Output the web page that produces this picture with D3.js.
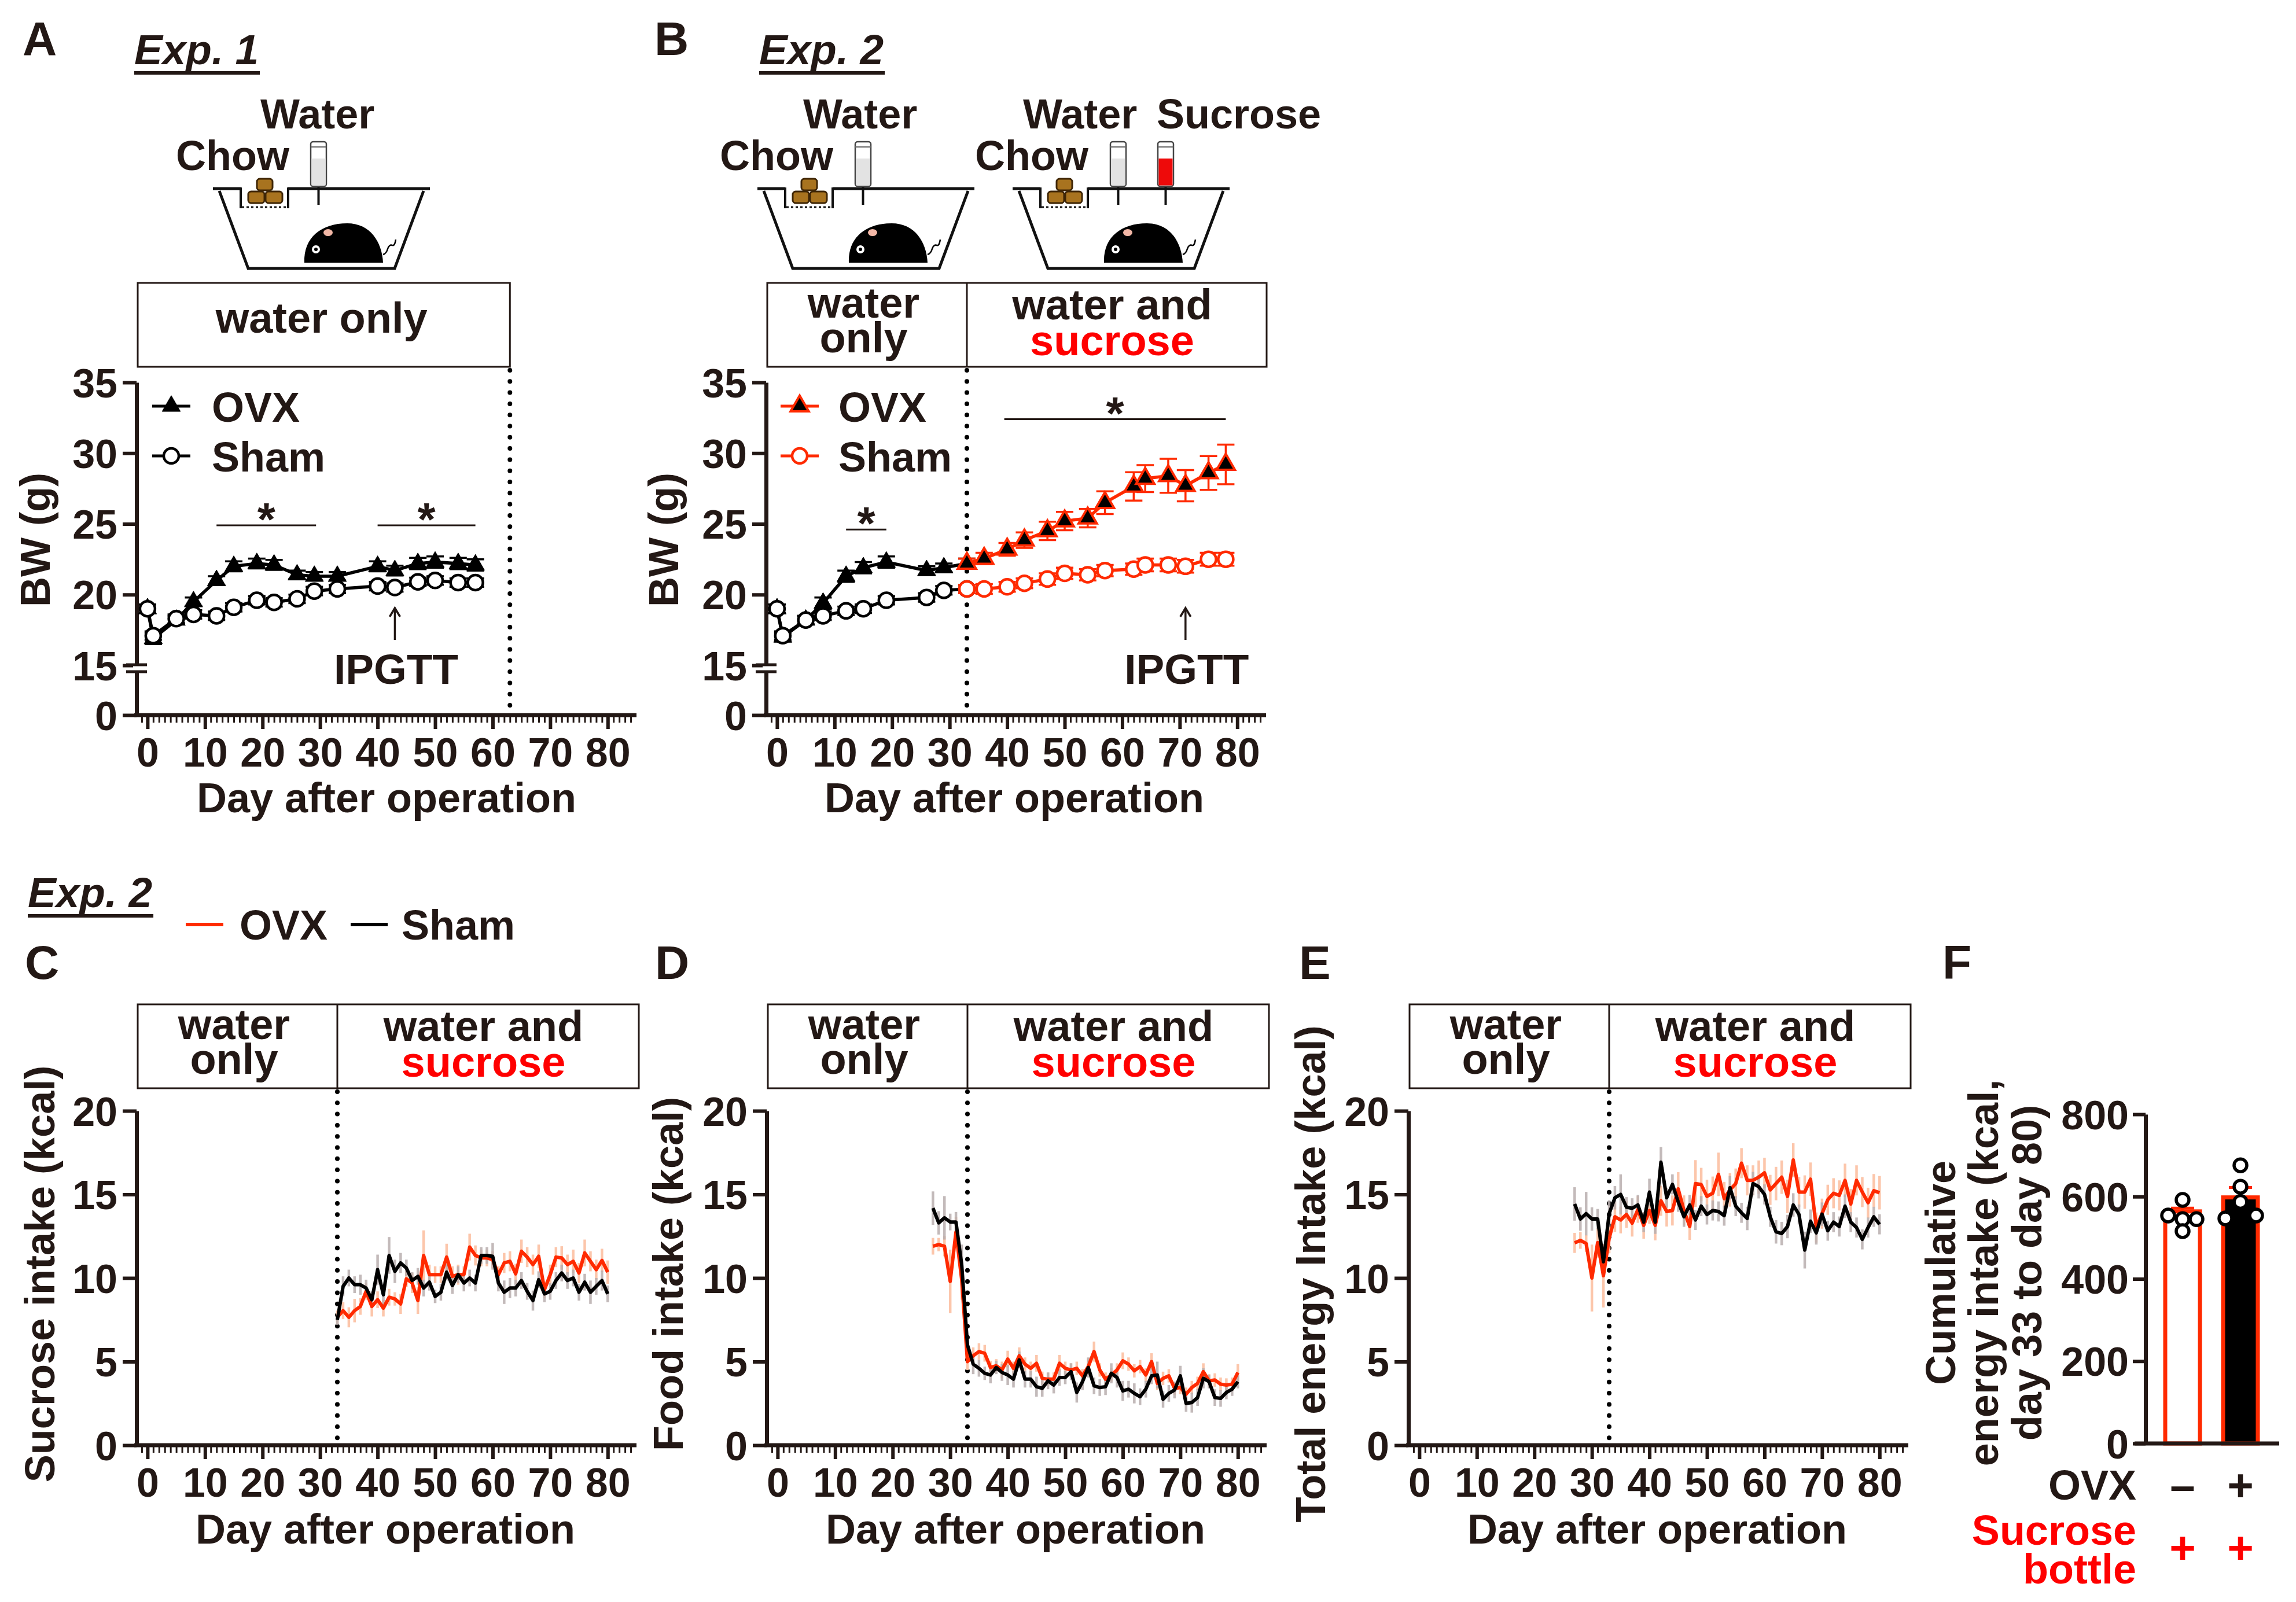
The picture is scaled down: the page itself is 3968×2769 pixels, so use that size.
<!DOCTYPE html>
<html><head><meta charset="utf-8">
<script src="https://cdn.jsdelivr.net/npm/d3@7"></script>
<style>
body{margin:0;background:#fff}
svg{display:block}
text{font-family:"Liberation Sans",Arial,sans-serif;font-weight:bold}
</style>
</head><body>
<svg id="fig" width="3968" height="2769"></svg>
<script>
// ---------------- DATA ----------------
// Panel A (Exp. 1) body weight
const daysA = [0,1,5,8,12,15,19,22,26,29,33,40,43,47,50,54,57];
const bwOvxA = [19.0,16.9,18.2,19.5,21.0,22.0,22.2,22.1,21.4,21.3,21.3,22.0,21.7,22.2,22.3,22.2,22.1];
const bwOvxASem = [0.3,0.4,0.3,0.3,0.3,0.35,0.35,0.35,0.3,0.3,0.3,0.35,0.35,0.4,0.4,0.4,0.4];
const bwShamA = [19.0,17.1,18.3,18.6,18.5,19.1,19.6,19.45,19.7,20.25,20.4,20.6,20.5,20.9,21.0,20.85,20.85];
const bwShamASem = [0.3,0.3,0.3,0.3,0.3,0.3,0.3,0.3,0.3,0.3,0.3,0.3,0.3,0.3,0.3,0.3,0.3];
// Panel B (Exp. 2) body weight
const daysB = [0,1,5,8,12,15,19,26,29,33,36,40,43,47,50,54,57,62,64,68,71,75,78];
const bwOvxB = [19.0,17.0,18.2,19.4,21.3,21.9,22.3,21.7,21.9,22.2,22.55,23.2,23.85,24.5,25.2,25.4,26.5,27.65,28.2,28.4,27.7,28.6,29.2];
const bwOvxBSem = [0.3,0.3,0.3,0.4,0.4,0.4,0.4,0.3,0.3,0.35,0.4,0.45,0.55,0.65,0.65,0.65,0.8,1.0,0.95,1.2,1.1,1.2,1.4];
const bwShamB = [19.0,17.1,18.2,18.5,18.85,19.0,19.6,19.8,20.3,20.4,20.4,20.55,20.8,21.1,21.5,21.4,21.7,21.8,22.1,22.1,22.0,22.5,22.5];
const bwShamBSem = [0.3,0.3,0.3,0.3,0.3,0.3,0.3,0.3,0.3,0.3,0.35,0.35,0.35,0.4,0.4,0.4,0.4,0.4,0.45,0.45,0.45,0.45,0.45];
const sucroseStartDay = 33;
// Panel C sucrose intake, days 33..80
const daysC = [33,34,35,36,37,38,39,40,41,42,43,44,45,46,47,48,49,50,51,52,53,54,55,56,57,58,59,60,61,62,63,64,65,66,67,68,69,70,71,72,73,74,75,76,77,78,79,80];
const sucOvx = [7.65,8.05,7.65,8.05,8.3,9.2,8.3,8.7,8.2,8.85,8.75,8.45,9.95,9.7,8.65,11.35,10.2,10.2,10.2,11.25,10.1,10.2,10.2,11.85,11.35,11.2,11.2,11.1,10.2,10.9,11.0,10.25,11.6,11.25,10.8,11.3,9.3,10.2,11.25,11.2,10.8,11.0,10.3,11.5,11.0,10.5,11.05,10.35];
const sucOvxSem = [0.4,0.5,0.6,0.7,0.5,0.5,0.6,0.5,0.5,0.5,0.4,0.6,0.5,0.6,0.8,1.5,0.6,0.5,0.5,0.8,0.6,0.6,0.5,0.8,0.6,0.5,0.5,0.5,0.5,0.6,0.6,0.6,0.7,0.6,0.6,0.7,0.5,0.6,0.6,0.7,0.6,0.7,0.6,0.8,0.6,0.6,0.7,0.7];
const sucSham = [7.5,9.5,10.0,9.6,9.6,9.4,8.7,10.5,9.0,11.35,10.4,10.9,10.6,9.85,10.1,9.4,9.75,8.9,9.15,10.35,9.55,10.2,9.7,10.0,9.7,11.35,11.35,11.3,9.7,9.15,9.4,9.4,9.85,9.2,8.65,9.9,9.05,9.2,9.85,10.3,9.85,10.0,9.15,9.75,9.15,9.5,9.85,9.05];
const sucShamSem = [0.3,0.6,0.5,0.5,0.6,0.5,0.5,0.9,0.6,1.1,0.7,0.6,0.5,0.5,0.5,0.5,0.5,0.4,0.5,0.5,0.5,0.5,0.5,0.5,0.5,0.5,0.5,0.8,0.5,0.7,0.6,0.5,0.5,0.5,0.6,0.5,0.5,0.5,0.5,0.5,0.5,0.5,0.5,0.5,0.7,0.5,0.6,0.5];
// Panels D/E, days 27..80
const daysDE = [27,28,29,30,31,32,33,34,35,36,37,38,39,40,41,42,43,44,45,46,47,48,49,50,51,52,53,54,55,56,57,58,59,60,61,62,63,64,65,66,67,68,69,70,71,72,73,74,75,76,77,78,79,80];
const foodOvx = [11.9,12.0,11.9,9.8,12.75,9.9,5.0,5.35,5.6,5.5,4.65,4.75,4.5,5.15,4.6,5.35,4.85,4.6,4.9,4.0,3.95,3.95,4.9,4.6,4.5,4.6,4.15,4.7,5.6,4.5,3.95,4.2,4.5,5.05,4.85,4.45,4.7,4.2,5.0,3.7,4.0,4.15,3.4,3.45,3.05,3.45,3.7,4.4,3.85,3.9,3.65,3.6,3.65,4.35];
const foodOvxSem = [0.5,0.4,0.6,1.9,0.9,1.2,0.5,0.5,0.5,0.5,0.4,0.4,0.5,0.5,0.4,0.5,0.4,0.4,0.5,0.4,0.4,0.4,0.5,0.4,0.4,0.4,0.4,0.5,0.6,0.4,0.4,0.4,0.4,0.5,0.4,0.4,0.4,0.4,0.5,0.4,0.4,0.4,0.4,0.4,0.4,0.4,0.4,0.5,0.4,0.4,0.4,0.4,0.4,0.5];
const foodSham = [14.18,13.3,13.6,13.35,13.35,10.8,6.0,4.85,4.6,4.3,4.2,4.65,4.35,4.2,3.95,5.1,3.95,3.95,3.5,3.4,3.85,3.6,4.05,4.05,4.4,3.15,3.8,4.65,3.55,3.45,3.5,4.3,4.05,3.25,3.35,3.1,2.9,3.35,4.15,4.2,2.75,3.1,3.3,4.15,2.5,2.55,2.85,4.0,3.8,2.85,2.8,3.15,3.35,3.8];
const foodShamSem = [1.0,0.7,1.3,0.5,0.6,1.2,0.5,0.6,0.5,0.4,0.5,0.4,0.5,0.6,0.5,0.5,0.5,0.5,0.6,0.5,0.5,0.5,0.5,0.4,0.5,0.6,0.5,0.6,0.5,0.5,0.5,0.6,0.6,0.6,0.5,0.6,0.5,0.5,0.5,0.8,0.5,0.5,0.5,0.6,0.5,0.6,0.5,0.6,0.4,0.5,0.5,0.4,0.4,0.4];
const totOvx = [12.1,12.25,12.06,10.0,12.12,10.14,12.38,13.66,13.47,13.8,13.28,14.1,13.15,14.04,13.15,14.62,13.98,14.04,15.33,14.04,13.08,15.65,15.59,14.88,15.07,16.2,14.75,15.27,15.65,16.87,15.84,15.84,16.03,16.29,15.27,15.65,16.03,14.88,17.06,15.14,15.14,15.91,13.02,13.85,14.68,15.07,14.94,15.84,14.43,15.84,15.14,14.5,15.22,15.1];
const totOvxSem = [0.6,0.5,0.5,2.0,0.9,1.9,0.9,0.9,0.8,0.8,0.8,0.8,0.8,0.8,0.9,0.9,0.9,0.9,1.0,0.9,0.8,1.4,1.0,1.0,1.0,1.3,1.0,1.0,0.9,0.9,0.9,0.9,1.0,0.9,0.9,1.0,1.0,1.0,1.0,0.9,1.0,1.0,0.9,0.9,0.9,0.9,0.9,1.0,0.9,0.9,0.9,0.9,1.0,1.0];
const totSham = [14.43,13.53,13.85,13.53,13.53,10.97,13.85,14.8,15.0,14.24,14.17,14.37,13.34,15.14,13.34,16.93,14.8,15.6,14.56,13.66,14.37,13.47,14.3,13.8,14.04,13.98,13.73,15.4,14.3,13.9,13.56,15.65,15.46,15.0,13.66,12.76,12.66,13.08,14.37,13.8,11.67,13.4,12.7,13.82,12.83,13.34,13.08,14.3,13.34,13.02,12.31,13.02,13.66,13.21];
const totShamSem = [1.0,0.7,1.3,0.7,0.6,0.9,0.8,0.7,1.2,0.6,0.6,0.6,0.6,0.8,0.7,0.9,0.6,0.6,0.6,0.6,0.6,0.6,0.6,0.6,0.6,0.6,0.6,0.7,0.6,0.6,0.7,0.7,0.7,0.6,0.6,0.7,0.7,0.7,0.7,0.6,1.1,0.7,0.7,0.7,0.6,0.6,0.6,0.7,0.6,0.6,0.6,0.6,0.6,0.6];
// Panel F
const fGroups = ["Sham","OVX"];
const fMeans = [564, 598];
const fSem = [8, 24];
const fDotsSham = [554,592,545,516,545];
const fDotsOvx = [676,624,587,547,554];
const xTickValues = [0,10,20,30,40,50,60,70,80];
const bwTicks = [0,15,20,25,30,35];
const intakeTicks = [0,5,10,15,20];
const fTicks = [0,200,400,600,800];

// ---------------- SETUP ----------------
const INK = '#231815', RED = '#ff2a00', PRED = '#ff0000', LRED = '#fcc6ab', LGRAY = '#b9afaf';
const svg = d3.select('#fig');
svg.append('rect').attr('width',3968).attr('height',2769).attr('fill','#fff');

function txt(x, y, s, size, opts={}) {
  const t = svg.append('text').attr('x',x).attr('y',y).attr('font-size',size)
    .attr('fill', opts.fill || INK).attr('text-anchor', opts.anchor || 'start').text(s);
  if (opts.italic) t.attr('font-style','italic');
  if (opts.rotate) t.attr('transform',`rotate(-90,${x},${y})`);
  return t;
}
function xScale(x0){ return d3.scaleLinear().domain([-1.9,85]).range([x0, x0+864]); }

function xAxis(x, y0, tickLabel=true) {
  const gm = svg.append('g').attr('transform',`translate(0,${y0})`)
    .call(d3.axisBottom(x).tickValues(d3.range(-1,85)).tickSize(13).tickSizeOuter(0).tickFormat(''));
  gm.select('.domain').remove();
  gm.selectAll('line').attr('stroke',INK).attr('stroke-width',3);
  const g = svg.append('g').attr('transform',`translate(0,${y0})`)
    .call(d3.axisBottom(x).tickValues(xTickValues).tickSize(24).tickSizeOuter(0));
  g.select('.domain').attr('stroke',INK).attr('stroke-width',7).attr('d',`M${x.range()[0]-4},0H${x.range()[1]}`);
  g.selectAll('line').attr('stroke',INK).attr('stroke-width',6);
  g.selectAll('text').attr('y',89).attr('dy',null).attr('font-size',70).attr('fill',INK);
}
function yAxis(y, x0, ticks) {
  const g = svg.append('g').attr('transform',`translate(${x0},0)`)
    .call(d3.axisLeft(y).tickValues(ticks).tickSize(24).tickSizeOuter(0));
  g.select('.domain').attr('stroke',INK).attr('stroke-width',7);
  g.selectAll('line').attr('stroke',INK).attr('stroke-width',6);
  g.selectAll('text').attr('x',-33).attr('dy','0.36em').attr('font-size',70).attr('fill',INK);
  return g;
}
function dotted(x, y1, y2) {
  svg.append('line').attr('x1',x).attr('x2',x).attr('y1',y1+6).attr('y2',y2)
    .attr('stroke','#000').attr('stroke-width',8).attr('stroke-linecap','round').attr('stroke-dasharray','0 19.3');
}
function header(left, right, divider, top, bottom, twoCols) {
  svg.append('rect').attr('x',left).attr('y',top).attr('width',right-left).attr('height',bottom-top)
    .attr('fill','none').attr('stroke',INK).attr('stroke-width',3);
  if (!twoCols) {
    txt((left+right)/2 - 4, top+86, 'water only', 74, {anchor:'middle'});
    return;
  }
  svg.append('line').attr('x1',divider).attr('x2',divider).attr('y1',top).attr('y2',bottom).attr('stroke',INK).attr('stroke-width',3);
  const c1 = (left+divider)/2 - 6, c2 = (divider+right)/2 - 8;
  txt(c1, top+60, 'water', 74, {anchor:'middle'});
  txt(c1, top+120, 'only', 74, {anchor:'middle'});
  txt(c2, top+63, 'water and', 74, {anchor:'middle'});
  txt(c2, top+125, 'sucrose', 74, {anchor:'middle', fill:PRED});
}
function expLabel(x, y, s) {
  const t = txt(x, y, s, 73, {italic:true});
  const w = t.node().getComputedTextLength();
  svg.append('line').attr('x1',x).attr('x2',x+w+2).attr('y1',y+15).attr('y2',y+15).attr('stroke',INK).attr('stroke-width',6);
}
function cage(dx, bottles) {
  const c = svg.append('g').attr('transform',`translate(${dx},0)`);
  c.append('path').attr('d','M379,330 L429,464 L682,464 L732,330').attr('fill','none').attr('stroke','#111').attr('stroke-width',5).attr('stroke-linejoin','miter');
  c.append('path').attr('d','M368,326 H416 M498,326 H743').attr('stroke','#111').attr('stroke-width',5);
  c.append('path').attr('d','M416,324 V360 M498,324 V360').attr('stroke','#111').attr('stroke-width',4);
  c.append('line').attr('x1',418).attr('x2',496).attr('y1',358).attr('y2',358).attr('stroke','#111').attr('stroke-width',3).attr('stroke-dasharray','4 4');
  [[429,331,28,20],[459,331,29,20],[444,309,27,20]].forEach(r=>{
    c.append('rect').attr('x',r[0]).attr('y',r[1]).attr('width',r[2]).attr('height',r[3]).attr('rx',5)
      .attr('fill','#a8731f').attr('stroke','#3f2606').attr('stroke-width',3);
  });
  bottles.forEach(b=>{
    c.append('line').attr('x1',b.x+13.5).attr('x2',b.x+13.5).attr('y1',322).attr('y2',354).attr('stroke','#111').attr('stroke-width',4);
    c.append('rect').attr('x',b.x).attr('y',245).attr('width',27).attr('height',77).attr('rx',4).attr('fill','#fff').attr('stroke','#444').attr('stroke-width',2.5);
    c.append('rect').attr('x',b.x+1.5).attr('y',274).attr('width',24).attr('height',46.5).attr('fill',b.fill);
    c.append('line').attr('x1',b.x).attr('x2',b.x+27).attr('y1',254).attr('y2',254).attr('stroke','#666').attr('stroke-width',2);
  });
  c.append('path').attr('d','M526,454 C524,410 556,386 600,386 C640,386 660,418 662,454 Z').attr('fill','#000');
  c.append('ellipse').attr('cx',567).attr('cy',402).attr('rx',9).attr('ry',7).attr('fill','#f2b7a6').attr('stroke','#000').attr('stroke-width',2);
  c.append('circle').attr('cx',546).attr('cy',431).attr('r',7).attr('fill','#fff');
  c.append('circle').attr('cx',546).attr('cy',431).attr('r',3).attr('fill','#000');
  c.append('path').attr('d','M662,440 q6,-2 8,-10 q3,-8 8,-6 q4,2 6,-10').attr('fill','none').attr('stroke','#000').attr('stroke-width',2.5);
}

// ---------------- PANEL A & B ----------------
const yBW = d3.scaleLinear().domain([0,15,35]).range([1236,1150,661]);
function bwAxes(x0, x) {
  const y0 = yBW(0);
  yAxis(yBW, x0, bwTicks);
  // axis break
  svg.append('rect').attr('x',x0-6).attr('y',yBW(15)+1).attr('width',12).attr('height',9).attr('fill','#fff');
  [yBW(15)-1, yBW(15)+11].forEach(yy=>svg.append('line').attr('x1',x0-18).attr('x2',x0+18).attr('y1',yy).attr('y2',yy).attr('stroke',INK).attr('stroke-width',5));
  xAxis(x, y0);
}
function sigBar(x, d1, d2, v, starSize=80) {
  const yy = yBW(v);
  svg.append('line').attr('x1',x(d1)).attr('x2',x(d2)).attr('y1',yy).attr('y2',yy).attr('stroke',INK).attr('stroke-width',3);
  txt((x(d1)+x(d2))/2, yy+17, '*', starSize, {anchor:'middle'});
}
function ipgtt(x, day) {
  const xx = x(day);
  svg.append('line').attr('x1',xx).attr('x2',xx).attr('y1',1106).attr('y2',1054).attr('stroke',INK).attr('stroke-width',3.5);
  svg.append('path').attr('d',`M${xx-9},${1066} L${xx},${1051} L${xx+9},${1066}`).attr('fill','none').attr('stroke',INK).attr('stroke-width',3.5);
  txt(xx+2, 1182, 'IPGTT', 73, {anchor:'middle'});
}
const tri = d3.symbol(d3.symbolTriangle, 430);
function drawSeries(x, days, vals, sems, opts) {
  const pts = days.map((d,i)=>({d, v:vals[i], s:sems[i]})).filter(p=>p.d>=opts.from && p.d<=opts.to);
  const g = svg.append('g');
  // error bars
  pts.forEach(p=>{
    const xx = x(p.d);
    g.append('path').attr('d',`M${xx},${yBW(p.v-p.s)}V${yBW(p.v+p.s)}M${xx-15},${yBW(p.v+p.s)}H${xx+15}M${xx-15},${yBW(p.v-p.s)}H${xx+15}`)
      .attr('stroke',opts.line).attr('stroke-width',3.5).attr('fill','none');
  });
  g.append('path').datum(pts).attr('d',d3.line().x(p=>x(p.d)).y(p=>yBW(p.v)))
    .attr('fill','none').attr('stroke',opts.line).attr('stroke-width',5.5).attr('stroke-linejoin','round');
  pts.forEach(p=>{
    if (opts.shape==='tri') {
      g.append('path').attr('d',tri()).attr('transform',`translate(${x(p.d)},${yBW(p.v)})`)
        .attr('fill','#000').attr('stroke',opts.mstroke).attr('stroke-width',opts.mstroke==='#000'?1:4);
    } else {
      g.append('circle').attr('cx',x(p.d)).attr('cy',yBW(p.v)).attr('r',13)
        .attr('fill','#fff').attr('stroke',opts.mstroke).attr('stroke-width',4.5);
    }
  });
}
function legendBW(lx, tx, lineCol, mstroke) {
  svg.append('line').attr('x1',lx-33).attr('x2',lx+33).attr('y1',702).attr('y2',702).attr('stroke',lineCol).attr('stroke-width',5);
  svg.append('path').attr('d',tri()).attr('transform',`translate(${lx},702)`).attr('fill','#000').attr('stroke',mstroke).attr('stroke-width',mstroke==='#000'?1:4);
  svg.append('line').attr('x1',lx-33).attr('x2',lx+33).attr('y1',788).attr('y2',788).attr('stroke',lineCol).attr('stroke-width',5);
  svg.append('circle').attr('cx',lx).attr('cy',788).attr('r',13).attr('fill','#fff').attr('stroke',lineCol).attr('stroke-width',4.5);
  txt(tx, 729, 'OVX', 72);
  txt(tx, 815, 'Sham', 72);
}

// Panel A
const xA = xScale(236);
txt(39, 95, 'A', 82);
expLabel(232, 111, 'Exp. 1');
cage(0, [{x:537, fill:'#e3e3e3'}]);
txt(450, 222, 'Water', 72); txt(304, 294, 'Chow', 72);
header(238, xA(63), null, 489, 634, false);
dotted(xA(63), 634, yBW(0));
bwAxes(236, xA);
drawSeries(xA, daysA, bwOvxA, bwOvxASem, {from:0,to:90,line:'#000',shape:'tri',mstroke:'#000'});
drawSeries(xA, daysA, bwShamA, bwShamASem, {from:0,to:90,line:'#000',shape:'circ',mstroke:'#000'});
legendBW(296, 366, '#000', '#000');
sigBar(xA, 12, 29.3, 24.9);
sigBar(xA, 40, 57, 24.9);
ipgtt(xA, 43);
txt(86, 933, 'BW (g)', 72, {anchor:'middle', rotate:true});
txt(668, 1404, 'Day after operation', 72, {anchor:'middle'});

// Panel B
const xB = xScale(1324);
txt(1131, 95, 'B', 82);
expLabel(1312, 111, 'Exp. 2');
cage(941, [{x:537, fill:'#e3e3e3'}]);
cage(1382, [{x:537, fill:'#e3e3e3'},{x:619, fill:'#ee0a0a'}]);
txt(1388, 222, 'Water', 72); txt(1244, 294, 'Chow', 72);
txt(1768, 222, 'Water', 72); txt(1999, 222, 'Sucrose', 72); txt(1685, 294, 'Chow', 72);
header(1326, 2189, xB(sucroseStartDay), 489, 634, true);
dotted(xB(sucroseStartDay), 634, yBW(0));
bwAxes(1324, xB);
drawSeries(xB, daysB, bwOvxB, bwOvxBSem, {from:0,to:33,line:'#000',shape:'tri',mstroke:'#000'});
drawSeries(xB, daysB, bwShamB, bwShamBSem, {from:0,to:33,line:'#000',shape:'circ',mstroke:'#000'});
drawSeries(xB, daysB, bwOvxB, bwOvxBSem, {from:33,to:90,line:RED,shape:'tri',mstroke:RED});
drawSeries(xB, daysB, bwShamB, bwShamBSem, {from:33,to:90,line:RED,shape:'circ',mstroke:RED});
legendBW(1382, 1449, RED, RED);
sigBar(xB, 12, 19, 24.6);
sigBar(xB, 39.5, 78, 32.4);
ipgtt(xB, 71);
txt(1172, 933, 'BW (g)', 72, {anchor:'middle', rotate:true});
txt(1753, 1404, 'Day after operation', 72, {anchor:'middle'});

// ---------------- PANELS C, D, E ----------------
const yI = d3.scaleLinear().domain([0,20]).range([2498,1920]);
function intakePanel(x0, letter, letterX, ylab, ylabX, days, ovx, ovxSem, sham, shamSem) {
  const x = xScale(x0);
  txt(letterX, 1692, letter, 82);
  header(x0+2, x0+868, x(sucroseStartDay), 1736, 1881, true);
  dotted(x(sucroseStartDay), 1881, yI(0));
  yAxis(yI, x0, intakeTicks);
  xAxis(x, yI(0));
  const g = svg.append('g');
  const mk = (vals, sems) => days.map((d,i)=>({d, v:vals[i], s:sems[i] ?? 0.5}));
  const po = mk(ovx, ovxSem), ps = mk(sham, shamSem);
  po.forEach(p=>g.append('line').attr('x1',x(p.d)).attr('x2',x(p.d)).attr('y1',yI(p.v-p.s)).attr('y2',yI(p.v+p.s)).attr('stroke',LRED).attr('stroke-width',4.5));
  ps.forEach(p=>g.append('line').attr('x1',x(p.d)).attr('x2',x(p.d)).attr('y1',yI(p.v-p.s)).attr('y2',yI(p.v+p.s)).attr('stroke',LGRAY).attr('stroke-width',4.5).attr('opacity',0.85));
  const ln = d3.line().x(p=>x(p.d)).y(p=>yI(p.v));
  g.append('path').datum(po).attr('d',ln).attr('fill','none').attr('stroke',RED).attr('stroke-width',6).attr('stroke-linejoin','round');
  g.append('path').datum(ps).attr('d',ln).attr('fill','none').attr('stroke','#000').attr('stroke-width',6).attr('stroke-linejoin','round');
  txt(ylabX, 2202, ylab, 72, {anchor:'middle', rotate:true});
  txt(x0 + 430, 2668, 'Day after operation', 72, {anchor:'middle'});
}
expLabel(48, 1568, 'Exp. 2');
svg.append('line').attr('x1',321).attr('x2',386).attr('y1',1598).attr('y2',1598).attr('stroke',RED).attr('stroke-width',6);
txt(414, 1624, 'OVX', 72);
svg.append('line').attr('x1',606).attr('x2',670).attr('y1',1598).attr('y2',1598).attr('stroke','#000').attr('stroke-width',6);
txt(694, 1624, 'Sham', 72);

intakePanel(236, 'C', 43, 'Sucrose intake (kcal)', 94, daysC, sucOvx, sucOvxSem, sucSham, sucShamSem);
intakePanel(1325, 'D', 1132, 'Food intake (kcal)', 1180, daysDE, foodOvx, foodOvxSem, foodSham, foodShamSem);
intakePanel(2434, 'E', 2245, 'Total energy Intake (kcal)', 2290, daysDE, totOvx, totOvxSem, totSham, totShamSem);

// ---------------- PANEL F ----------------
txt(3357, 1692, 'F', 82);
const yF = d3.scaleLinear().domain([0,800]).range([2495,1926]);
const xF = d3.scaleBand().domain(fGroups).range([3722,3922]).paddingInner(0.33).paddingOuter(0.165);
const gF = svg.append('g');
fGroups.forEach((gname,i)=>{
  gF.append('rect').attr('x',xF(gname)+3.5).attr('y',yF(fMeans[i])).attr('width',xF.bandwidth()-7).attr('height',yF(0)-yF(fMeans[i]))
    .attr('fill', i===0 ? '#fff' : '#000').attr('stroke',RED).attr('stroke-width',7);
  const cx = xF(gname)+xF.bandwidth()/2;
  gF.append('path').attr('d',`M${cx},${yF(fMeans[i])}V${yF(fMeans[i]+fSem[i])}M${cx-20},${yF(fMeans[i]+fSem[i])}H${cx+20}`)
    .attr('stroke',RED).attr('stroke-width',5).attr('fill','none');
});
const fyAxis = svg.append('g').attr('transform','translate(3708,0)')
  .call(d3.axisLeft(yF).tickValues(fTicks).tickSize(22).tickSizeOuter(0));
fyAxis.select('.domain').attr('stroke',INK).attr('stroke-width',7);
fyAxis.selectAll('line').attr('stroke',INK).attr('stroke-width',6);
fyAxis.selectAll('text').attr('x',-29).attr('dy','0.36em').attr('font-size',70).attr('fill',INK);
svg.append('line').attr('x1',3689).attr('x2',3939).attr('y1',yF(0)).attr('y2',yF(0)).attr('stroke',INK).attr('stroke-width',7);
const dotOffsets = [[-25,0,0,0,24],[0,0,0,-26,27]];
[fDotsSham, fDotsOvx].forEach((arr,i)=>{
  const cx = xF(fGroups[i])+xF.bandwidth()/2;
  arr.forEach((v,j)=>gF.append('circle').attr('cx',cx+dotOffsets[i][j]).attr('cy',yF(v)).attr('r',11)
    .attr('fill','#fff').attr('stroke','#000').attr('stroke-width',5.5));
});
txt(3379, 2200, 'Cumulative', 72, {anchor:'middle', rotate:true});
txt(3453, 2200, 'energy intake (kcal,', 72, {anchor:'middle', rotate:true});
txt(3528, 2200, 'day 33 to day 80)', 72, {anchor:'middle', rotate:true});
txt(3692, 2592, 'OVX', 72, {anchor:'end'});
txt(3692, 2670, 'Sucrose', 72, {anchor:'end', fill:PRED});
txt(3692, 2737, 'bottle', 72, {anchor:'end', fill:PRED});
const fSigns = ['\u2013','+'];
fGroups.forEach((gname,i)=>{
  const cx = xF(gname)+xF.bandwidth()/2;
  txt(cx, 2594, fSigns[i], 78, {anchor:'middle'});
  txt(cx, 2702, '+', 78, {anchor:'middle', fill:PRED});
});
</script>
</body></html>
